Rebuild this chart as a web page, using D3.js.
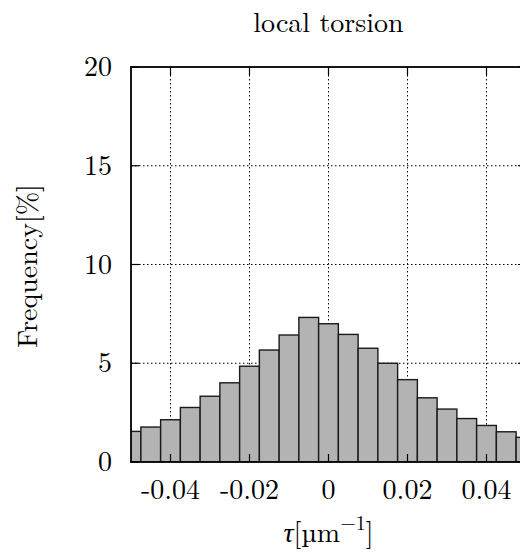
<!DOCTYPE html>
<html>
<head>
<meta charset="utf-8">
<script src="https://cdn.jsdelivr.net/npm/d3@7"></script>
<style>
  html, body { margin: 0; padding: 0; overflow: hidden; background: #fff; }
  svg { display: block; }
  text { font-family: "Latin Modern Roman", "Liberation Serif", "DejaVu Serif", serif; fill: #000; }
</style>
</head>
<body>
<svg id="chart"></svg>
<script>
// --- data ---
const binCenters = [-0.05, -0.045, -0.04, -0.035, -0.03, -0.025, -0.02, -0.015, -0.01, -0.005,
                    0, 0.005, 0.01, 0.015, 0.02, 0.025, 0.03, 0.035, 0.04, 0.045, 0.05];
const frequency = [1.55, 1.77, 2.14, 2.76, 3.33, 4.01, 4.85, 5.67, 6.43, 7.32,
                   7.0, 6.46, 5.76, 5.0, 4.17, 3.25, 2.68, 2.2, 1.85, 1.53, 1.25];
const binWidth = 0.005;
const xTicks = [-0.04, -0.02, 0, 0.02, 0.04];
const xTickLabels = ["-0.04", "-0.02", "0", "0.02", "0.04"];
const yTicks = [0, 5, 10, 15, 20];

const data = binCenters.map((c, i) => ({ c, v: frequency[i] }));

// --- layout ---
const svgW = 530, svgH = 553;
const margin = { top: 67, right: 4, bottom: 91, left: 131 };
const width = svgW - margin.left - margin.right;
const height = svgH - margin.top - margin.bottom;
const fs = "28px";

const root = d3.select("#chart").attr("width", svgW).attr("height", svgH);
const svg = root.append("g").attr("transform", `translate(${margin.left},${margin.top})`);

const x = d3.scaleLinear().domain([-0.05, 0.05]).range([0, width]);
const y = d3.scaleLinear().domain([0, 20]).range([height, 0]);

root.append("defs").append("clipPath").attr("id", "plotclip")
  .append("rect").attr("width", width).attr("height", height);

// grid
svg.append("g").selectAll("line.vg").data(xTicks).enter().append("line")
  .attr("x1", d => x(d)).attr("x2", d => x(d))
  .attr("y1", 0).attr("y2", height)
  .attr("stroke", "#000").attr("stroke-width", 1).attr("stroke-dasharray", "1.5,2.5");
svg.append("g").selectAll("line.hg").data(yTicks.slice(1, -1)).enter().append("line")
  .attr("x1", 0).attr("x2", width)
  .attr("y1", d => y(d)).attr("y2", d => y(d))
  .attr("stroke", "#000").attr("stroke-width", 1).attr("stroke-dasharray", "1.5,2.5");

// bars
svg.append("g").attr("clip-path", "url(#plotclip)")
  .selectAll("rect.bar").data(data).enter().append("rect")
  .attr("class", "bar")
  .attr("x", d => x(d.c - binWidth / 2))
  .attr("y", d => y(d.v))
  .attr("width", d => x(d.c + binWidth / 2) - x(d.c - binWidth / 2))
  .attr("height", d => y(0) - y(d.v))
  .attr("fill", "#b3b3b3")
  .attr("stroke", "#1a1a1a")
  .attr("stroke-width", 1.4);

// ticks (inward, both sides)
const tl = 8;
svg.append("g").selectAll("line").data(xTicks).enter().append("line")
  .attr("x1", d => x(d)).attr("x2", d => x(d)).attr("y1", 0).attr("y2", tl)
  .attr("stroke", "#000").attr("stroke-width", 1.2);
svg.append("g").selectAll("line").data(xTicks).enter().append("line")
  .attr("x1", d => x(d)).attr("x2", d => x(d)).attr("y1", height).attr("y2", height - tl)
  .attr("stroke", "#000").attr("stroke-width", 1.2);
svg.append("g").selectAll("line").data(yTicks).enter().append("line")
  .attr("x1", 0).attr("x2", tl).attr("y1", d => y(d)).attr("y2", d => y(d))
  .attr("stroke", "#000").attr("stroke-width", 1.2);
svg.append("g").selectAll("line").data(yTicks).enter().append("line")
  .attr("x1", width).attr("x2", width - tl).attr("y1", d => y(d)).attr("y2", d => y(d))
  .attr("stroke", "#000").attr("stroke-width", 1.2);

// frame
svg.append("rect").attr("width", width).attr("height", height)
  .attr("fill", "none").attr("stroke", "#000").attr("stroke-width", 1.8);

// tick labels
svg.append("g").selectAll("text").data(yTicks).enter().append("text")
  .attr("x", -19).attr("y", d => y(d)).attr("dy", "0.33em")
  .attr("text-anchor", "end").style("font-size", fs)
  .text(d => d);
svg.append("g").selectAll("text").data(xTicks).enter().append("text")
  .attr("x", d => x(d)).attr("y", height + 37)
  .attr("text-anchor", "middle").style("font-size", fs)
  .text((d, i) => xTickLabels[i]);

// title
svg.append("text")
  .attr("x", x(0)).attr("y", -35)
  .attr("text-anchor", "middle").style("font-size", fs)
  .text("local torsion");

// axis labels
const xl = svg.append("text")
  .attr("x", x(0)).attr("y", height + 80)
  .attr("text-anchor", "middle").style("font-size", fs);
xl.append("tspan").style("font-style", "italic").text("τ");
xl.append("tspan").text("[µm");
xl.append("tspan").attr("dy", -12).style("font-size", "20px").text("−1");
xl.append("tspan").attr("dy", 12).text("]");

svg.append("text")
  .attr("transform", `translate(${-94},${height / 2 + 1.5}) rotate(-90)`)
  .attr("text-anchor", "middle").style("font-size", fs)
  .text("Frequency[%]");
</script>
</body>
</html>
